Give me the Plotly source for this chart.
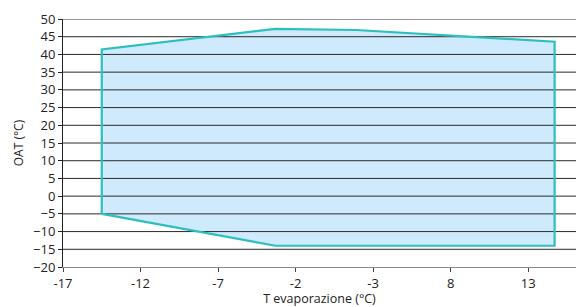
import plotly.graph_objects as go

# Envelope vertices
evap_x = [-14.5, -14.5, -3.3, 1.9, 14.7, 14.7, -3.3, -14.5]
oat_y = [-5, 41.4, 47.2, 46.9, 43.6, -14, -14, -5]

x_tick_vals = [-17, -12, -7, -2, 3, 8, 13]
x_tick_text = ["-17", "-12", "-7", "-2", "-3", "8", "13"]
y_tick_vals = list(range(-20, 55, 5))

x_range = [-17, 16.08]
y_range = [-20, 50]

fig = go.Figure()
# filled envelope (no outline)
fig.add_trace(go.Scatter(
    x=evap_x, y=oat_y, mode="lines", fill="toself",
    fillcolor="#cfeafc", line=dict(width=0, color="rgba(0,0,0,0)"),
    hoverinfo="skip", showlegend=False,
))
# horizontal grid lines drawn above the fill
gx, gy = [], []
for v in y_tick_vals[1:]:
    gx += [x_range[0], x_range[1], None]
    gy += [v, v, None]
fig.add_trace(go.Scatter(
    x=gx, y=gy, mode="lines", line=dict(color="#2a2a2a", width=1),
    hoverinfo="skip", showlegend=False, cliponaxis=False,
))
# outline
fig.add_trace(go.Scatter(
    x=evap_x, y=oat_y, mode="lines",
    line=dict(color="#2cbfbf", width=2.2),
    hoverinfo="skip", showlegend=False,
))

font_family = "Open Sans, Noto Sans, DejaVu Sans, sans-serif"
fig.update_layout(
    width=576, height=307,
    margin=dict(l=63, r=0, t=19, b=40),
    paper_bgcolor="white", plot_bgcolor="rgba(0,0,0,0)",
    font=dict(family=font_family, size=13, color="#222"),
    xaxis=dict(
        range=x_range, tickvals=x_tick_vals, ticktext=x_tick_text,
        showgrid=False, zeroline=False, showline=True, linecolor="#888", linewidth=1,
        ticks="outside", ticklen=4, tickcolor="#444", automargin=False,
        title=dict(text="T evaporazione (°C)", font=dict(size=12.5), standoff=2),
    ),
    yaxis=dict(
        range=y_range, tickvals=y_tick_vals,
        showgrid=False, zeroline=False,
        showline=True, linecolor="#222", linewidth=1,
        ticks="outside", ticklen=4, tickcolor="#222", automargin=False,
        title=dict(text="OAT (°C)", font=dict(size=12), standoff=6),
    ),
)
fig.write_html(
    "out.html",
    config={"displayModeBar": False},
    post_script="document.body.style.margin='0';document.body.style.overflow='hidden';",
)
